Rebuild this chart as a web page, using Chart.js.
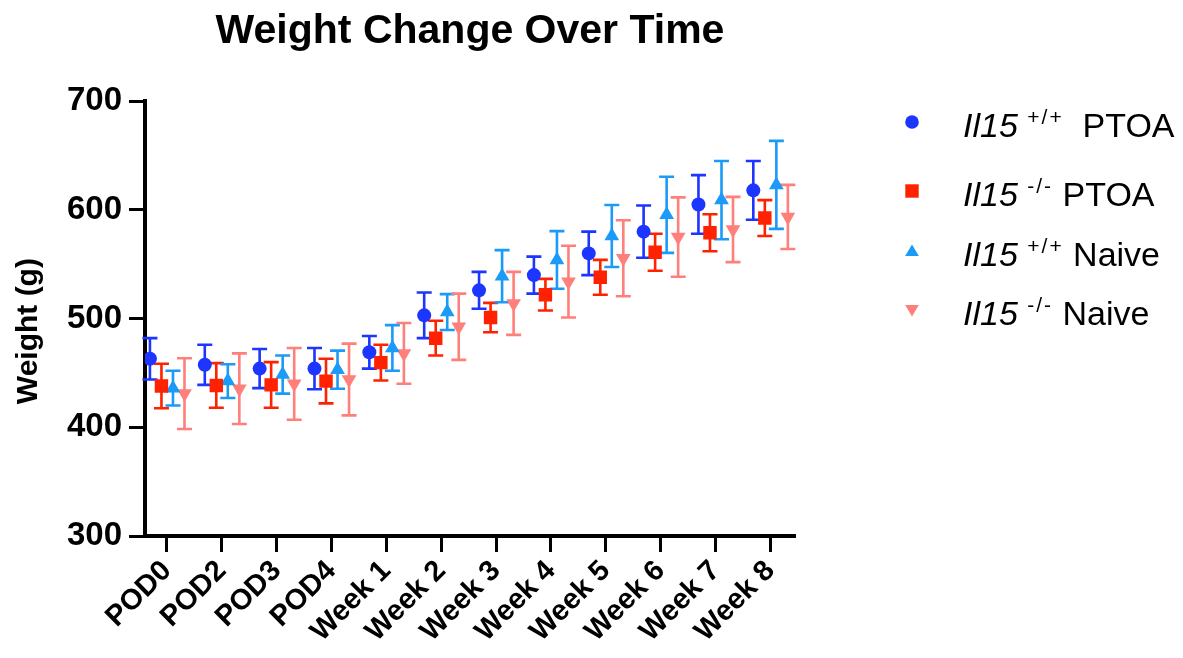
<!DOCTYPE html>
<html>
<head>
<meta charset="utf-8">
<title>Weight Change Over Time</title>
<script src="https://cdn.jsdelivr.net/npm/chart.js@4.4.1/dist/chart.umd.min.js"></script>
<style>
  html, body { margin: 0; padding: 0; background: #fff; }
  #wrap { position: relative; width: 1183px; height: 658px; }
  #legend { font-family: "Liberation Sans", Arial, Helvetica, sans-serif; font-size: 34px; color: #000; }
  .row { position: absolute; left: 896px; height: 34px; line-height: 34px; white-space: nowrap; }
  .row svg { position: absolute; left: 0; top: -2px; }
  .row .t { position: absolute; left: 67px; top: 0; }
  .row i { font-style: italic; }
  .row sup { font-size: 21px; letter-spacing: 2px; vertical-align: 0; position: relative; top: -13px; }
</style>
</head>
<body>
<div id="wrap">
  <canvas id="chart" width="1183" height="658"></canvas>
  <div id="legend">
    <div class="row" style="top:108px">
      <svg width="32" height="32"><circle cx="16" cy="16" r="6.8" fill="#1c35ff"/></svg>
      <span class="t"><i>Il15</i> <sup>+/+</sup>&nbsp; PTOA</span>
    </div>
    <div class="row" style="top:177px">
      <svg width="32" height="32"><rect x="9.3" y="9.3" width="13.4" height="13.4" fill="#ff2200"/></svg>
      <span class="t"><i>Il15</i> <sup>-/-</sup> PTOA</span>
    </div>
    <div class="row" style="top:237px">
      <svg width="32" height="32"><polygon points="16,9.5 22.8,21 9.2,21" fill="#1b9af7"/></svg>
      <span class="t"><i>Il15</i> <sup>+/+</sup> Naive</span>
    </div>
    <div class="row" style="top:296px">
      <svg width="32" height="32"><polygon points="9.2,11 22.8,11 16,22.5" fill="#ff7f7a"/></svg>
      <span class="t"><i>Il15</i> <sup>-/-</sup> Naive</span>
    </div>
  </div>
</div>
<script>
const FONT = '"Liberation Sans", Arial, Helvetica, sans-serif';

// Time points
const CATEGORIES = ['POD0', 'POD2', 'POD3', 'POD4', 'Week 1', 'Week 2',
                    'Week 3', 'Week 4', 'Week 5', 'Week 6', 'Week 7', 'Week 8'];

// Mean weight (g) and error (+/-) per group
const WT_PTOA_MEAN  = [463, 457.5, 454, 454, 469, 503, 526, 540, 560, 580, 605, 618];
const WT_PTOA_ERR   = [19, 18.5, 18, 19, 15, 21, 17, 17, 20, 24, 27, 27];

const KO_PTOA_MEAN  = [438, 438.5, 439, 442.5, 459.5, 482, 501, 522, 538, 561, 579, 592.5];
const KO_PTOA_ERR   = [20.5, 20.5, 21, 20.5, 16.5, 16, 13.5, 14.5, 16, 17, 17, 16.5];

const WT_NAIVE_MEAN = [436, 442.5, 448.5, 453, 473, 506, 539, 554, 576, 595.5, 609, 623];
const WT_NAIVE_ERR  = [16, 15.5, 17.5, 17.5, 21, 16.5, 24, 26.5, 28.5, 35, 36, 40.5];

const KO_NAIVE_MEAN = [431, 435.5, 440, 444, 468, 492.5, 514, 534, 555.5, 575, 582, 593.5];
const KO_NAIVE_ERR  = [32.5, 32.5, 33, 33, 28, 30.5, 29, 33, 35, 36.5, 30, 29.5];

const Y_TICKS = [300, 400, 500, 600, 700];

// horizontal dodge of each group inside a time point (in category units)
const DODGE = [-0.31, -0.1, 0.11, 0.32];
const CAP = 7.5;

const groups = [
    { label: 'Il15 +/+ PTOA',  mean: WT_PTOA_MEAN,  err: WT_PTOA_ERR,  color: '#1c35ff', style: 'circle',   radius: 7,   rotation: 0 },
    { label: 'Il15 -/- PTOA',  mean: KO_PTOA_MEAN,  err: KO_PTOA_ERR,  color: '#ff2200', style: 'rect',     radius: 9.5, rotation: 0 },
    { label: 'Il15 +/+ Naive', mean: WT_NAIVE_MEAN, err: WT_NAIVE_ERR, color: '#1b9af7', style: 'triangle', radius: 8.5, rotation: 0 },
    { label: 'Il15 -/- Naive', mean: KO_NAIVE_MEAN, err: KO_NAIVE_ERR, color: '#ff7f7a', style: 'triangle', radius: 8.5, rotation: 180 }
];

const datasets = groups.map((g, k) => ({
    label: g.label,
    data: CATEGORIES.map((c, i) => ({ x: i + DODGE[k], y: g.mean[i], err: g.err[i] })),
    backgroundColor: g.color,
    borderColor: g.color,
    borderWidth: 0,
    pointStyle: g.style,
    pointRadius: g.radius,
    rotation: g.rotation,
    showLine: false
}));

// error bars drawn under the markers
const errorBars = {
    id: 'errorBars',
    beforeDatasetsDraw(chart) {
        const { ctx, scales: { x, y } } = chart;
        ctx.save();
        ctx.lineWidth = 2.6;
        chart.data.datasets.forEach(ds => {
            ctx.strokeStyle = ds.borderColor;
            ds.data.forEach(p => {
                const px = x.getPixelForValue(p.x);
                const top = y.getPixelForValue(p.y + p.err);
                const bot = y.getPixelForValue(p.y - p.err);
                ctx.beginPath();
                ctx.moveTo(px, top); ctx.lineTo(px, bot);
                ctx.moveTo(px - CAP, top); ctx.lineTo(px + CAP, top);
                ctx.moveTo(px - CAP, bot); ctx.lineTo(px + CAP, bot);
                ctx.stroke();
            });
        });
        ctx.restore();
    }
};

new Chart(document.getElementById('chart'), {
    type: 'scatter',
    data: { datasets: datasets },
    plugins: [errorBars],
    options: {
        responsive: false,
        animation: false,
        devicePixelRatio: 1,
        layout: { padding: { left: 0, right: 388, top: 0, bottom: 0 } },
        plugins: {
            legend: { display: false },
            tooltip: { enabled: false },
            title: {
                display: true,
                text: 'Weight Change Over Time',
                fullSize: false,
                color: '#000',
                font: { family: FONT, size: 41, weight: 'bold' },
                padding: { top: 7, bottom: 45 }
            }
        },
        scales: {
            x: {
                type: 'linear',
                min: -0.4,
                max: 11.45,
                afterBuildTicks: s => { s.ticks = CATEGORIES.map((c, i) => ({ value: i })); },
                afterFit: s => { s.height = 122; },
                grid: { drawOnChartArea: false, tickLength: 16, tickWidth: 3, tickColor: '#000' },
                border: { color: '#000', width: 4 },
                ticks: {
                    autoSkip: false,
                    minRotation: 45,
                    maxRotation: 45,
                    padding: 2,
                    color: '#000',
                    font: { family: FONT, size: 29, weight: 'bold' },
                    callback: v => CATEGORIES[v]
                }
            },
            y: {
                min: 300,
                max: 700,
                afterBuildTicks: s => { s.ticks = Y_TICKS.map(v => ({ value: v })); },
                afterFit: s => { s.width = 145; },
                grid: { drawOnChartArea: false, tickLength: 16, tickWidth: 3, tickColor: '#000' },
                border: { color: '#000', width: 4 },
                ticks: {
                    padding: 7,
                    color: '#000',
                    font: { family: FONT, size: 33, weight: 'bold' }
                },
                title: {
                    display: true,
                    text: 'Weight (g)   ',
                    color: '#000',
                    font: { family: FONT, size: 30, weight: 'bold' },
                    padding: { top: 11, bottom: 0 }
                }
            }
        }
    }
});
</script>
</body>
</html>
